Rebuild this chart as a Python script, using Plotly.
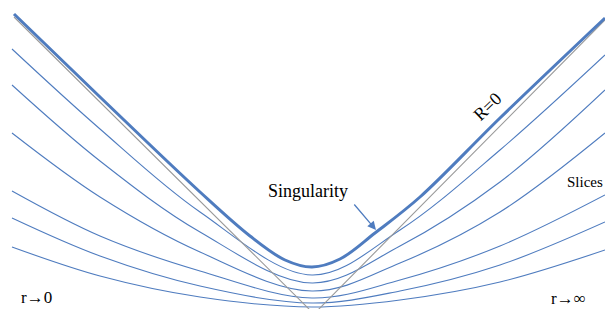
import plotly.graph_objects as go

# Pixel-like coordinate system (y grows downward)
slice_x = [12, 100, 200, 312, 400, 500, 605]
slice_1 = [49, 129, 212, 275, 230, 150, 55]
slice_2 = [85, 161, 232, 283, 246, 182, 90]
slice_3 = [133, 197, 252, 291, 263, 212, 133]
slice_4 = [191, 236, 271, 298, 280, 246, 195]
slice_5 = [218, 256, 286, 303, 291, 265, 222]
slice_6 = [247, 276, 297, 307, 300, 282, 250]
slices = [slice_1, slice_2, slice_3, slice_4, slice_5, slice_6]

sing_x = [14, 100, 200, 250, 285, 312, 340, 375, 420, 500, 605]
sing_y = [14, 97, 192, 236, 260, 267, 259, 233, 197, 118, 18]

cone_x = [14, 314, 605]
cone_y = [17, 314, 20]

BLUE = "#4F7CBF"
GRAY = "#9a9a9a"
FONT = "Liberation Serif"

fig = go.Figure()
for s in slices:
    fig.add_trace(go.Scatter(x=slice_x, y=s, mode="lines",
                             line=dict(color=BLUE, width=1.1, shape="spline", smoothing=1.0),
                             hoverinfo="skip", showlegend=False))
fig.add_trace(go.Scatter(x=cone_x, y=cone_y, mode="lines",
                         line=dict(color=GRAY, width=1.1),
                         hoverinfo="skip", showlegend=False))
fig.add_trace(go.Scatter(x=sing_x, y=sing_y, mode="lines",
                         line=dict(color=BLUE, width=3, shape="spline", smoothing=1.0),
                         hoverinfo="skip", showlegend=False))

annots = [
    dict(x=308, y=191, text="Singularity", size=18, angle=0),
    dict(x=487, y=107, text="R=0", size=18, angle=-44),
    dict(x=585, y=182, text="Slices", size=15, angle=0),
    dict(x=36, y=297, text="r→0", size=17, angle=0),
    dict(x=568, y=298, text="r→∞", size=17, angle=0),
]
for a in annots:
    fig.add_annotation(x=a["x"], y=a["y"], text=a["text"], showarrow=False,
                       textangle=a["angle"], xref="x", yref="y",
                       font=dict(family=FONT, size=a["size"], color="black"))

fig.add_annotation(x=376, y=230, ax=353, ay=203, xref="x", yref="y",
                   axref="x", ayref="y", text="", showarrow=True,
                   arrowhead=2, arrowsize=1.3, arrowwidth=1.3, arrowcolor=BLUE)

fig.update_xaxes(range=[0, 605], visible=False, fixedrange=True)
fig.update_yaxes(range=[309, 0], visible=False, fixedrange=True)
fig.update_layout(width=605, height=309, margin=dict(l=0, r=0, t=0, b=0),
                  paper_bgcolor="white", plot_bgcolor="white")
fig.write_html("out.html", config={"displayModeBar": False},
               post_script="document.body.style.margin='0';document.body.style.overflow='hidden';")
